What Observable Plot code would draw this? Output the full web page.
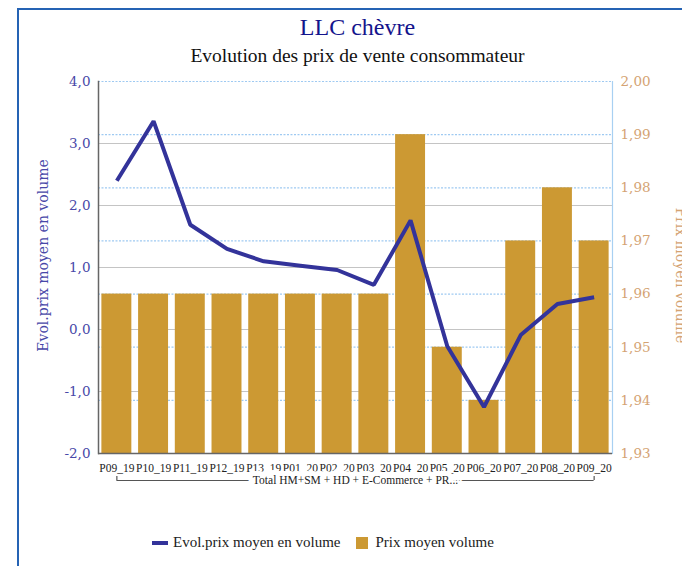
<!DOCTYPE html>
<html><head><meta charset="utf-8">
<script src="https://cdn.jsdelivr.net/npm/d3@7"></script>
<script src="https://cdn.jsdelivr.net/npm/@observablehq/plot@0.6"></script>
<style>
html,body{margin:0;padding:0;background:#fff}
body{width:682px;height:566px;overflow:hidden;position:relative;font-family:"Liberation Serif",serif}
#frame{position:absolute;left:17px;top:8px;width:720px;height:620px;border-left:2px solid #2563b4;border-top:2px solid #2563b4;box-sizing:border-box}
#title{position:absolute;left:0;top:15px;width:715px;text-align:center;font-size:24px;line-height:24px;color:#14148c}
#subtitle{position:absolute;left:0;top:46px;width:715px;text-align:center;font-size:19.5px;line-height:19.5px;color:#111}
#chart{position:absolute;left:0;top:62px}
#legend{position:absolute;left:152px;top:535.4px;display:flex;align-items:center;font-size:15px;line-height:15px;color:#222}
.sw-line{width:16px;height:4px;background:#33339a;margin-right:5px}
.sw-bar{width:12px;height:12px;background:#cc9933;margin-left:16px;margin-right:7px}
</style>
</head><body>
<div id="frame"></div>
<div id="title">LLC chèvre</div>
<div id="subtitle">Evolution des prix de vente consommateur</div>
<div id="chart"></div>
<div id="legend"><span class="sw-line"></span><span>Evol.prix moyen en volume</span><span class="sw-bar"></span><span>Prix moyen volume</span></div>
<script>
const periods = ["P09_19","P10_19","P11_19","P12_19","P13_19","P01_20","P02_20","P03_20","P04_20","P05_20","P06_20","P07_20","P08_20","P09_20"];
const evolPrix = [2.40, 3.36, 1.69, 1.30, 1.10, 1.03, 0.96, 0.72, 1.76, -0.27, -1.25, -0.09, 0.41, 0.52];
const prixMoyen = [1.96, 1.96, 1.96, 1.96, 1.96, 1.96, 1.96, 1.96, 1.99, 1.95, 1.94, 1.97, 1.98, 1.97];
const leftTicks = [-2, -1, 0, 1, 2, 3, 4];
const rightTicks = [1.93, 1.94, 1.95, 1.96, 1.97, 1.98, 1.99, 2.00];
const groupLabel = "Total HM+SM + HD + E-Commerce + PR...";
const leftTitle = "Evol.prix moyen en volume";
const rightTitle = "Prix moyen volume";

const leftDomain = [-2, 4];
const rightDomain = [1.93, 2.00];
const toLeft = d3.scaleLinear(rightDomain, leftDomain);

const data = periods.map((p, i) => ({cat: p, evol: evolPrix[i], prix: prixMoyen[i]}));
const fmtL = d => d.toFixed(1).replace(".", ",");
const fmtR = d => toLeft.invert(d).toFixed(2).replace(".", ",");
const firstCat = periods[0];
const lastCat = periods[periods.length - 1];

const chart = Plot.plot({
  width: 682,
  height: 438,
  marginTop: 19,
  marginBottom: 47,
  marginLeft: 98,
  marginRight: 70,
  style: {background: "transparent", overflow: "visible"},
  x: {domain: periods, paddingInner: 0.184, paddingOuter: 0.092, round: false, label: null},
  y: {domain: leftDomain, label: null},
  marks: [
    Plot.gridY(leftTicks.filter(t => t > -2 && t < 4), {stroke: "#c4c4c4", strokeOpacity: 1, strokeWidth: 1.2}),
    Plot.gridY(rightTicks.filter(t => t > 1.93).map(toLeft), {stroke: "#9fcaf2", strokeOpacity: 1, strokeWidth: 1.2, strokeDasharray: "2,1.5"}),
    Plot.barY(data, {x: "cat", y1: leftDomain[0], y2: d => toLeft(d.prix), fill: "#cc9933"}),
    Plot.frame({anchor: "right", stroke: "#a8d0f2", strokeWidth: 1.2}),
    Plot.frame({anchor: "left", stroke: "#666", strokeWidth: 1.5}),
    Plot.ruleY([leftDomain[0]], {stroke: "#666", strokeWidth: 1.5}),
    Plot.lineY(data, {x: "cat", y: "evol", stroke: "#33339a", strokeWidth: 4, strokeLinejoin: "miter", strokeLinecap: "butt"}),
    Plot.axisY(leftTicks, {anchor: "left", tickSize: 0, tickPadding: 8, tickFormat: fmtL, fontSize: 13.5, fontFamily: "DejaVu Serif", color: "#4848a8", label: null}),
    Plot.axisY(rightTicks.map(toLeft), {anchor: "right", tickSize: 0, tickPadding: 8, tickFormat: fmtR, fontSize: 13.5, fontFamily: "DejaVu Serif", color: "#d4a373", label: null}),
    Plot.axisX({tickSize: 0, tickPadding: 10, fontSize: 11.5, fontFamily: "Liberation Serif", color: "#222", label: null}),
    Plot.ruleY([leftDomain[0]], {x1: () => firstCat, x2: () => lastCat, insetLeft: 15, insetRight: 15, dy: 27, stroke: "#555", strokeWidth: 1.2}),
    Plot.ruleX([firstCat, lastCat], {y1: leftDomain[0], y2: leftDomain[0], insetTop: 23, insetBottom: -27, stroke: "#555", strokeWidth: 1.2}),
    Plot.text([groupLabel], {frameAnchor: "bottom", dy: 27, text: d => d, fontSize: 11.5, fontFamily: "Liberation Serif", fill: "#222", stroke: "white", strokeWidth: 10, lineAnchor: "middle"}),
    Plot.text([leftTitle], {frameAnchor: "left", rotate: -90, dx: -55, dy: -12, text: d => d, fontSize: 14, fontFamily: "DejaVu Serif", fill: "#4848a8", lineAnchor: "middle", textAnchor: "middle"}),
    Plot.text([rightTitle], {frameAnchor: "right", rotate: 90, dx: 68, dy: 8, text: d => d, fontSize: 14, fontFamily: "DejaVu Serif", fill: "#d4a373", lineAnchor: "middle", textAnchor: "middle"})
  ]
});
document.getElementById("chart").appendChild(chart);
</script>
</body></html>
